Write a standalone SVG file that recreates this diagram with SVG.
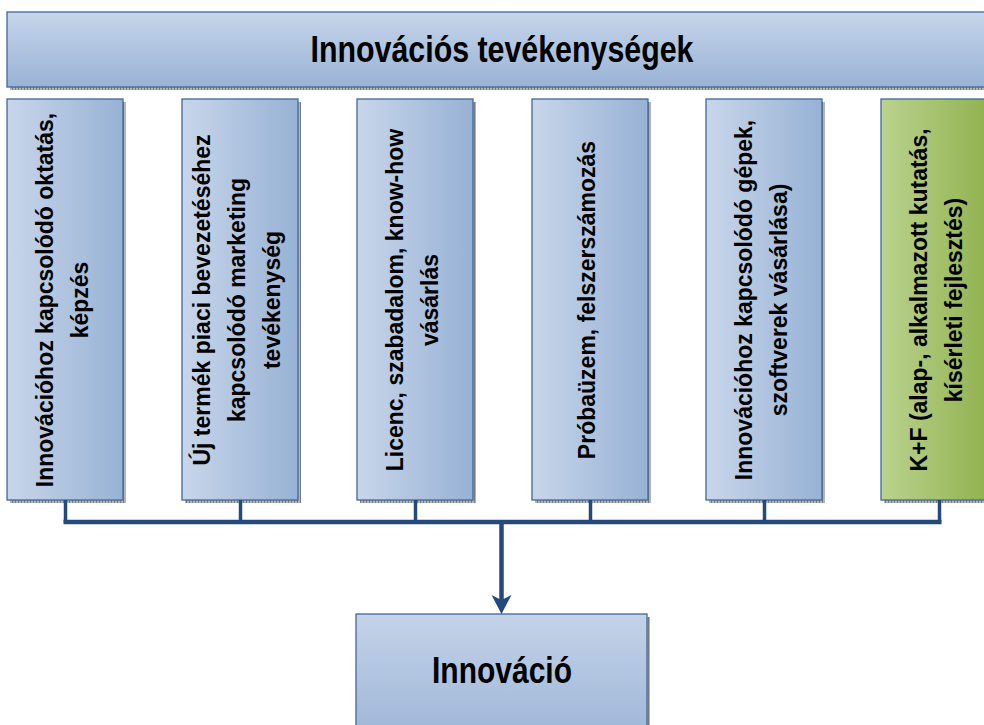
<svg xmlns="http://www.w3.org/2000/svg" width="984" height="725" viewBox="0 0 984 725">
<defs>
<linearGradient id="gH" x1="0" y1="0" x2="1" y2="0"><stop offset="0" stop-color="#c8d6ea"/><stop offset="1" stop-color="#97b2d5"/></linearGradient>
<linearGradient id="gV" x1="0" y1="0" x2="0" y2="1"><stop offset="0" stop-color="#c6d5ea"/><stop offset="1" stop-color="#99b3d6"/></linearGradient>
<linearGradient id="gV2" x1="0" y1="0" x2="0" y2="1"><stop offset="0" stop-color="#c4d3e8"/><stop offset="1" stop-color="#9fb7d8"/></linearGradient>
<linearGradient id="gG" x1="0" y1="0" x2="1" y2="0"><stop offset="0" stop-color="#bad38e"/><stop offset="1" stop-color="#8eaf4b"/></linearGradient>
<pattern id="hatch" width="3" height="3" patternUnits="userSpaceOnUse"><rect width="3" height="3" fill="#b4b4b4"/><rect width="1" height="3" fill="#7a7a7a"/></pattern>
</defs>
<style>
.box{stroke:#3f679c;stroke-width:1.3}
.sh{fill:url(#hatch)}
.vt{font-family:"Liberation Sans",Arial,sans-serif;font-weight:bold;font-size:23px;fill:#000;text-anchor:middle}
.big{font-family:"Liberation Sans Narrow","Liberation Sans",Arial,sans-serif;font-weight:bold;font-size:37px;fill:#000;text-anchor:middle}
.con{stroke:#24497d;fill:none}
</style>
<g id="title">
<rect class="sh" x="10" y="15" width="990" height="75"/>
<rect class="box" x="7" y="12" width="990" height="75" fill="url(#gV)"/>
<text class="big" x="502" y="62" textLength="383" lengthAdjust="spacingAndGlyphs">Innovációs tevékenységek</text>
</g>
<g id="n1">
<rect class="sh" x="10" y="102" width="116" height="401"/>
<rect class="box" x="7" y="99" width="116" height="401" fill="url(#gH)"/>
<g transform="translate(65,300) rotate(-90)"><text class="vt" x="0" y="-12.5">Innovációhoz kapcsolódó oktatás,</text><text class="vt" x="0" y="22.5">képzés</text></g>
</g>
<g id="n2">
<rect class="sh" x="185" y="102" width="116" height="401"/>
<rect class="box" x="182" y="99" width="116" height="401" fill="url(#gH)"/>
<g transform="translate(240,300) rotate(-90)"><text class="vt" x="0" y="-30">Új termék piaci bevezetéséhez</text><text class="vt" x="0" y="5">kapcsolódó marketing</text><text class="vt" x="0" y="40">tevékenység</text></g>
</g>
<g id="n3">
<rect class="sh" x="360" y="102" width="116" height="401"/>
<rect class="box" x="357" y="99" width="116" height="401" fill="url(#gH)"/>
<g transform="translate(415,300) rotate(-90)"><text class="vt" x="0" y="-12.5">Licenc, szabadalom, know-how</text><text class="vt" x="0" y="22.5">vásárlás</text></g>
</g>
<g id="n4">
<rect class="sh" x="535" y="102" width="116" height="401"/>
<rect class="box" x="532" y="99" width="116" height="401" fill="url(#gH)"/>
<g transform="translate(590,300) rotate(-90)"><text class="vt" x="0" y="5">Próbaüzem, felszerszámozás</text></g>
</g>
<g id="n5">
<rect class="sh" x="709" y="102" width="116" height="401"/>
<rect class="box" x="706" y="99" width="116" height="401" fill="url(#gH)"/>
<g transform="translate(764,300) rotate(-90)"><text class="vt" x="0" y="-12.5">Innovációhoz kapcsolódó gépek,</text><text class="vt" x="0" y="22.5">szoftverek vásárlása)</text></g>
</g>
<g id="n6">
<rect class="sh" x="884" y="102" width="116" height="401"/>
<rect class="box" x="881" y="99" width="116" height="401" fill="url(#gG)"/>
<g transform="translate(939,300) rotate(-90)"><text class="vt" x="0" y="-12.5">K+F (alap-, alkalmazott kutatás,</text><text class="vt" x="0" y="22.5">kísérleti fejlesztés)</text></g>
</g>
<g id="innovacio">
<rect class="sh" x="359" y="617" width="291" height="120"/>
<rect class="box" x="356" y="614" width="291" height="120" fill="url(#gV2)"/>
<text class="big" x="502" y="683" textLength="140" lengthAdjust="spacingAndGlyphs">Innováció</text>
</g>
<g id="connectors">
<g class="con" stroke-width="3.5">
<line x1="65.5" y1="500" x2="65.5" y2="522"/>
<line x1="240.5" y1="500" x2="240.5" y2="522"/>
<line x1="415.5" y1="500" x2="415.5" y2="522"/>
<line x1="590.5" y1="500" x2="590.5" y2="522"/>
<line x1="764.5" y1="500" x2="764.5" y2="522"/>
<line x1="939.5" y1="500" x2="939.5" y2="522"/>
</g>
<line class="con" stroke-width="4.5" x1="63.5" y1="522" x2="941.5" y2="522"/>
<line class="con" stroke-width="4.5" x1="501.5" y1="522" x2="501.5" y2="600"/>
<path d="M491.5,595 L501.5,600 L511.5,595 L501.5,614 Z" fill="#24497d"/>
</g>
</svg>
